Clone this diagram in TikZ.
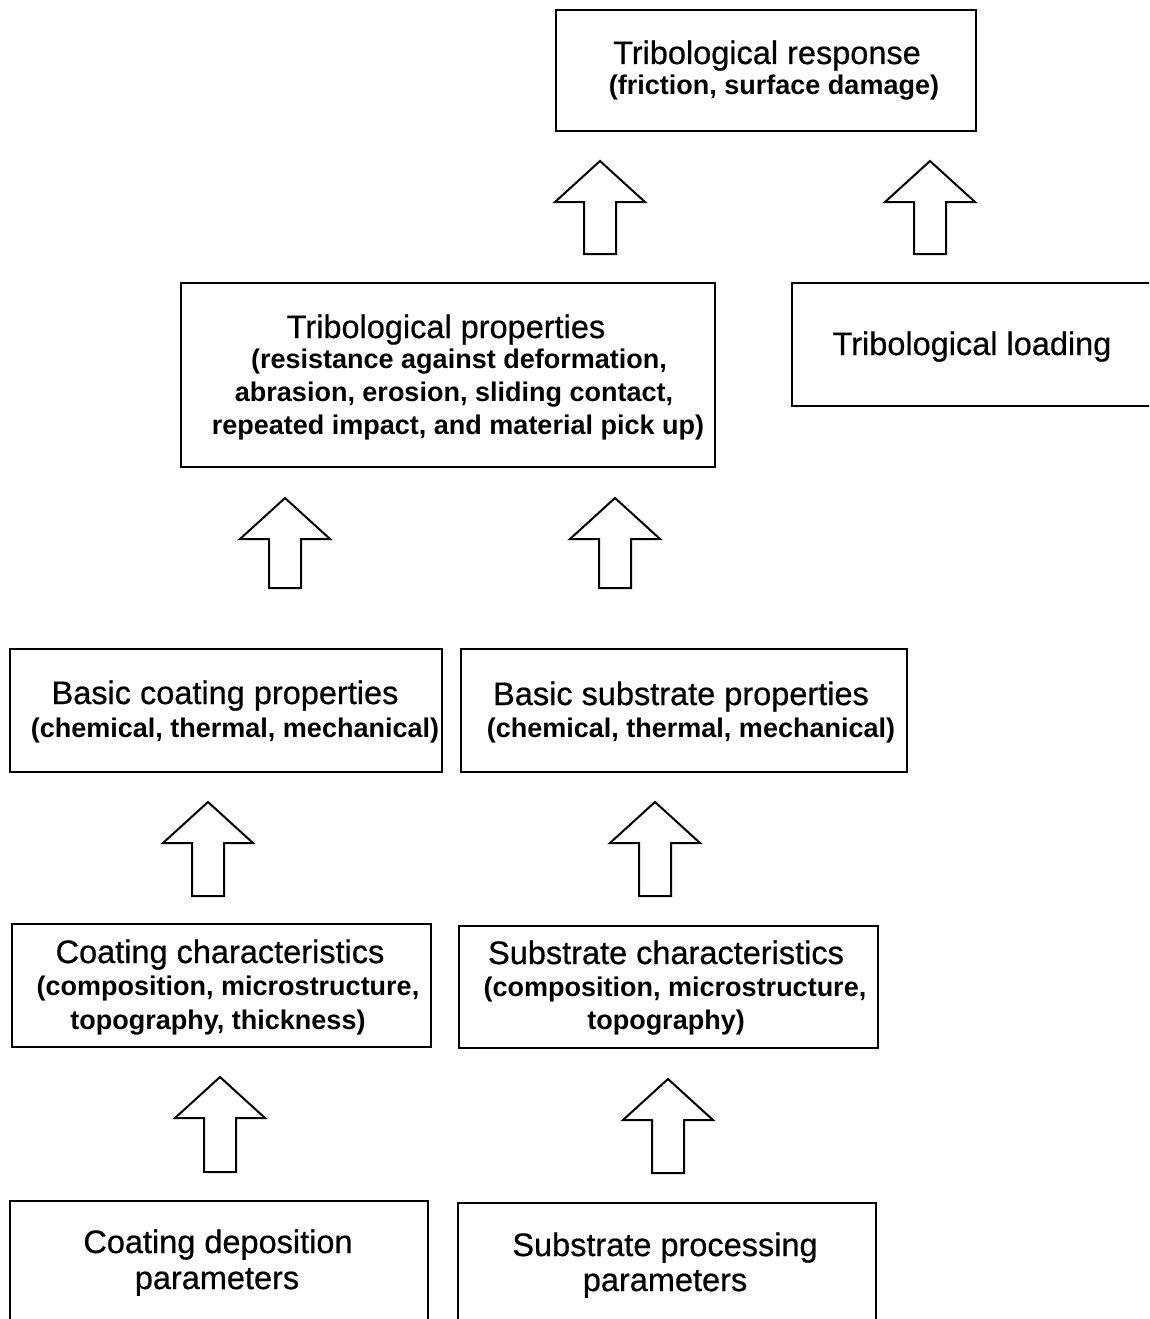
\documentclass[tikz,border=0pt]{standalone}
\usepackage{fontspec}
\setmainfont{Liberation Sans}
\newfontfamily\ttlfont[FakeBold=0.6]{Liberation Sans}
\begin{document}
\begin{tikzpicture}[x=1pt,y=-1pt,
  box/.style={draw, line width=2pt, inner sep=0pt},
  ttl/.style={anchor=base, inner sep=0pt, font=\ttlfont\fontsize{32.5}{36}\selectfont},
  sub/.style={anchor=base, inner sep=0pt, font=\bfseries\fontsize{27}{33}\selectfont},
  blk/.style={draw, line width=2pt, line join=miter, fill=white}]
\useasboundingbox (0,0) rectangle (1149,1319);
\clip (0,0) rectangle (1149,1319);
\newcommand\mybox[5]{\node[box, minimum width={#4-#2}, minimum height={#5-#3}] (#1) at ({(#2+#4)/2},{(#3+#5)/2}) {};}
\newcommand\blkarrow[4]{% name, cx, tip y, shaft length
  \coordinate (#1) at (#2,#3);
  \draw[blk] (#1) -- ++(45,41) -- ++(-29,0) -- ++(0,#4) -- ++(-32,0) -- ++(0,-#4) -- ++(-29,0) -- cycle;}
% boxes
\mybox{resp}{556}{10}{976}{131}
\mybox{props}{181}{283}{715}{467}
\mybox{load}{792}{283}{1170}{406}
\mybox{bcoat}{10}{649}{442}{772}
\mybox{bsub}{461}{649}{907}{772}
\mybox{ccoat}{12}{924}{431}{1047}
\mybox{csub}{459}{926}{878}{1048}
\mybox{pcoat}{10}{1201}{428}{1340}
\mybox{psub}{458}{1203}{876}{1340}
% texts
\node[ttl] (respT) at (767,64) {Tribological response};
\node[sub] (respS) at (774,95) {(friction, surface damage)};
\node[ttl] (propsT) at (446,338) {Tribological properties};
\node[sub] (propsS1) at (459,368) {(resistance against deformation,};
\node[sub] (propsS2) at (454,401) {abrasion, erosion, sliding contact,};
\node[sub] (propsS3) at (458,434) {repeated impact, and material pick up)};
\node[ttl] (loadT) at (972,355) {Tribological loading};
\node[ttl] (bcoatT) at (225,704) {Basic coating properties};
\node[sub] (bcoatS) at (235,737) {(chemical, thermal, mechanical)};
\node[ttl] (bsubT) at (681,705) {Basic substrate properties};
\node[sub] (bsubS) at (691,737) {(chemical, thermal, mechanical)};
\node[ttl] (ccoatT) at (220,963) {Coating characteristics};
\node[sub] (ccoatS1) at (228,995) {(composition, microstructure,};
\node[sub] (ccoatS2) at (218,1029) {topography, thickness)};
\node[ttl] (csubT) at (666,964) {Substrate characteristics};
\node[sub] (csubS1) at (675,996) {(composition, microstructure,};
\node[sub] (csubS2) at (666,1029) {topography)};
\node[ttl] (pcoatT1) at (218,1253) {Coating deposition};
\node[ttl] (pcoatT2) at (217,1289) {parameters};
\node[ttl] (psubT1) at (665,1256) {Substrate processing};
\node[ttl] (psubT2) at (665,1291) {parameters};
% block arrows
\blkarrow{a1}{600}{161}{52}
\blkarrow{a2}{930}{161}{52}
\blkarrow{a3}{285}{498}{49}
\blkarrow{a4}{615}{498}{49}
\blkarrow{a5}{208}{802}{53}
\blkarrow{a6}{655}{802}{53}
\blkarrow{a7}{220}{1077}{54}
\blkarrow{a8}{668}{1079}{53}
\end{tikzpicture}
\end{document}
